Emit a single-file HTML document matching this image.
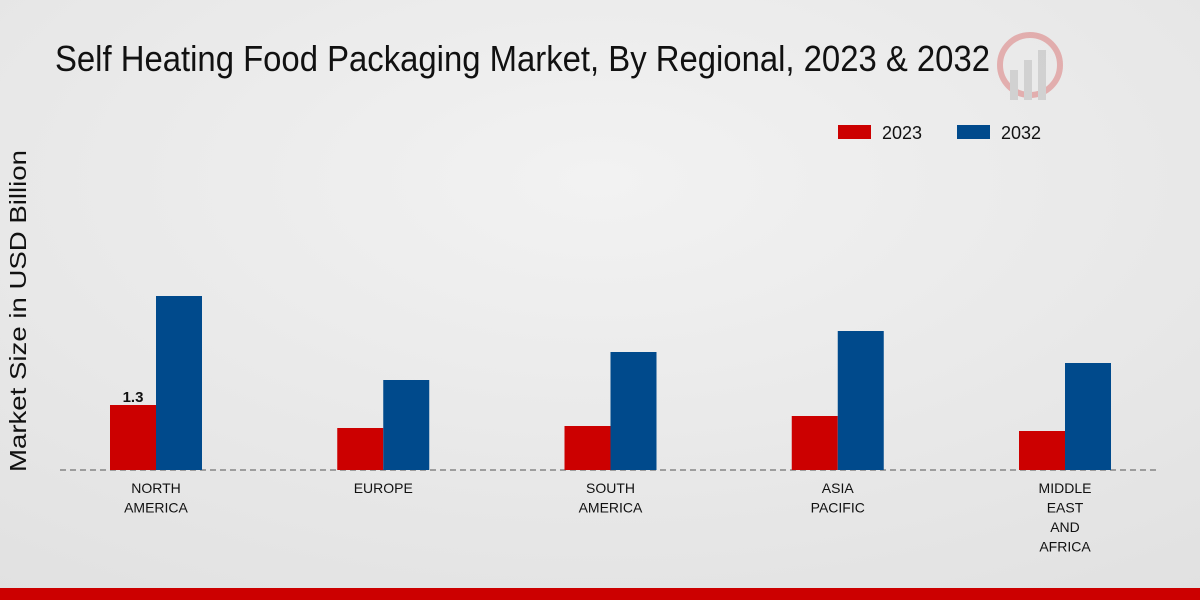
<!DOCTYPE html>
<html><head><meta charset="utf-8"><style>
body{margin:0;width:1200px;height:600px;overflow:hidden;font-family:"Liberation Sans",sans-serif;}
svg{display:block}
</style></head><body>
<svg id="chart" width="1200" height="600" xmlns="http://www.w3.org/2000/svg">
<defs><radialGradient id="bg" cx="0.5" cy="0.3" r="0.9"><stop offset="0" stop-color="#f2f2f2"/><stop offset="1" stop-color="#e0e0e0"/></radialGradient></defs>
<rect width="1200" height="600" fill="url(#bg)"/>
<text x="55" y="71" font-size="36" fill="#111" textLength="935" lengthAdjust="spacingAndGlyphs">Self Heating Food Packaging Market, By Regional, 2023 &amp; 2032</text>
<g opacity="0.25">
<circle cx="1030" cy="65" r="30" fill="none" stroke="#c00" stroke-width="6"/>
<rect x="1010" y="70" width="8" height="30" fill="#888"/><rect x="1024" y="60" width="8" height="40" fill="#888"/><rect x="1038" y="50" width="8" height="50" fill="#888"/>
</g>
<g>
<rect x="838" y="125" width="33" height="14" fill="#cc0000"/>
<text x="882" y="139" font-size="18" fill="#111">2023</text>
<rect x="957" y="125" width="33" height="14" fill="#004a8c"/>
<text x="1001" y="139" font-size="18" fill="#111">2032</text>
</g>
<text transform="translate(26,311) rotate(-90)" text-anchor="middle" font-size="23" fill="#111" textLength="322" lengthAdjust="spacingAndGlyphs">Market Size in USD Billion</text>
<line x1="60" y1="470" x2="1160" y2="470" stroke="#555" stroke-dasharray="6,4"/>
<g id="bars"></g>
<g id="labels"></g>
<rect x="0" y="588" width="1200" height="12" fill="#cc0000"/>
</svg>
<script>
const categories=[["NORTH","AMERICA"],["EUROPE"],["SOUTH","AMERICA"],["ASIA","PACIFIC"],["MIDDLE","EAST","AND","AFRICA"]];
const values2023=[1.3,0.84,0.88,1.08,0.78];
const values2032=[3.48,1.8,2.36,2.78,2.14];
const labelled2023=["1.3",null,null,null,null];
const ns="http://www.w3.org/2000/svg";
const base=470,scale=50,x0=156,step=227.25,bw=46;
const y=v=>base-v*scale;
const cx=i=>x0+i*step;
const bars=document.getElementById('bars'),labels=document.getElementById('labels');
function mk(t,a){const e=document.createElementNS(ns,t);for(const k in a)e.setAttribute(k,a[k]);return e;}
categories.forEach((c,i)=>{
 const r1=mk('rect',{x:cx(i)-bw,y:y(values2023[i]),width:bw,height:base-y(values2023[i]),fill:'#cc0000'});
 
 
 bars.appendChild(r1);
 const r2=mk('rect',{x:cx(i),y:y(values2032[i]),width:bw,height:base-y(values2032[i]),fill:'#004a8c'});
 
 
 bars.appendChild(r2);
 if(labelled2023[i]){
  const t=mk('text',{x:cx(i)-bw/2,y:y(values2023[i])-3,'text-anchor':'middle','font-size':15,'font-weight':'bold',fill:'#111'});
  t.textContent=labelled2023[i];
  
  
  labels.appendChild(t);
 }
 c.forEach((line,j)=>{
  const t=mk('text',{x:cx(i),y:493+j*19.5,'text-anchor':'middle','font-size':14,fill:'#111'});
  t.textContent=line;
  
  
  labels.appendChild(t);
 });
});
</script>
</body></html>
